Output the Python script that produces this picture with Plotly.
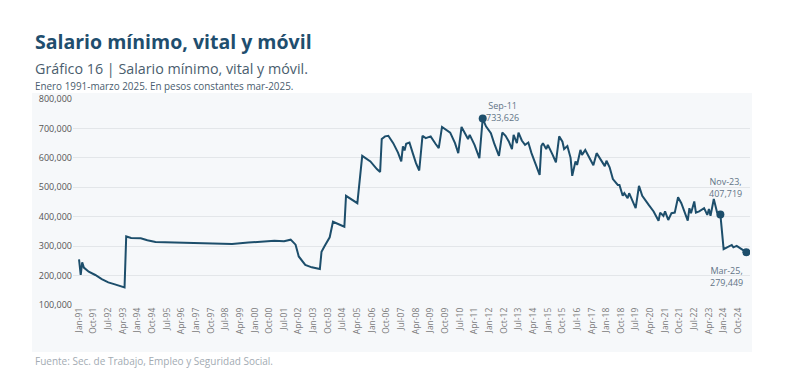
import plotly.graph_objects as go

# ---- Data (vertices, monthly dates) ----
dates = [
    "1991-01", "1991-02", "1991-03", "1991-04", "1991-07", "1991-11", "1992-03", "1992-07",
    "1992-11", "1993-03", "1993-05", "1993-06", "1993-09", "1994-03", "1994-07", "1994-12",
    "1995-12", "1996-12", "1998-01", "1998-11", "1999-09", "2001-01", "2001-07", "2001-11",
    "2002-02", "2002-04", "2002-08", "2002-12", "2003-05", "2003-06", "2003-08", "2003-11",
    "2004-01", "2004-06", "2004-08", "2004-09", "2004-12", "2005-04", "2005-07", "2005-12",
    "2006-04", "2006-06", "2006-07", "2006-09", "2006-11", "2007-02", "2007-05", "2007-07",
    "2007-08", "2007-09", "2007-10", "2007-12", "2008-02", "2008-04", "2008-06", "2008-08",
    "2008-10", "2009-01", "2009-04", "2009-06", "2009-08", "2009-09", "2009-11", "2010-01",
    "2010-04", "2010-06", "2010-08", "2010-10", "2010-12", "2011-01", "2011-04", "2011-07",
    "2011-09", "2011-11", "2012-02", "2012-04", "2012-07", "2012-09", "2012-11", "2013-01",
    "2013-03", "2013-04", "2013-06", "2013-07", "2013-09", "2013-11", "2014-01", "2014-03",
    "2014-06", "2014-08", "2014-09", "2014-10", "2014-12", "2015-01", "2015-04", "2015-06",
    "2015-08", "2015-10", "2015-11", "2016-01", "2016-03", "2016-04", "2016-06", "2016-07",
    "2016-09", "2016-10", "2016-12", "2017-03", "2017-05", "2017-07", "2017-10", "2017-12",
    "2018-01", "2018-03", "2018-05", "2018-07", "2018-08", "2018-09", "2018-11", "2018-12",
    "2019-02", "2019-03", "2019-05", "2019-07", "2019-09", "2019-11", "2020-03", "2020-06",
    "2020-09", "2020-10", "2020-12", "2021-01", "2021-03", "2021-05", "2021-07", "2021-09",
    "2021-11", "2022-01", "2022-03", "2022-04", "2022-05", "2022-07", "2022-08", "2022-10",
    "2023-01", "2023-03", "2023-04", "2023-05", "2023-07", "2023-09", "2023-11", "2024-01",
    "2024-04", "2024-06", "2024-07", "2024-09", "2024-12", "2025-03",
]
salario = [
    255000, 202000, 245000, 227000, 213000, 202000, 188000, 177000,
    170000, 165000, 160000, 333000, 328000, 327000, 320000, 314000,
    312000, 309000, 309000, 307000, 312000, 318000, 317000, 322000,
    305000, 265000, 236000, 228000, 222000, 281000, 301000, 330000,
    383000, 369000, 366000, 471000, 460000, 446000, 607000, 588000,
    562000, 552000, 664000, 673000, 675000, 650000, 618000, 588000,
    639000, 625000, 648000, 652000, 616000, 582000, 557000, 675000,
    667000, 673000, 648000, 633000, 705000, 701000, 693000, 686000,
    650000, 616000, 705000, 684000, 664000, 678000, 644000, 599000,
    733626, 707000, 684000, 650000, 607000, 686000, 675000, 656000,
    630000, 678000, 650000, 686000, 659000, 644000, 652000, 616000,
    571000, 542000, 640000, 650000, 630000, 644000, 610000, 585000,
    673000, 655000, 630000, 640000, 600000, 539000, 588000, 576000,
    627000, 610000, 627000, 595000, 575000, 616000, 592000, 572000,
    590000, 568000, 528000, 516000, 508000, 508000, 471000, 480000,
    463000, 480000, 452000, 429000, 505000, 471000, 440000, 418000,
    386000, 414000, 403000, 418000, 389000, 412000, 414000, 466000,
    446000, 412000, 387000, 429000, 412000, 452000, 414000, 418000,
    429000, 406000, 426000, 403000, 460000, 414000, 407719, 290000,
    298000, 304000, 296000, 301000, 290000, 279449,
]
y_ticks = [100000, 200000, 300000, 400000, 500000, 600000, 700000, 800000]

highlight_dates = ["2011-09", "2023-11", "2025-03"]
highlight_labels = ["Sep-11<br>733,626", "Nov-23,<br>407,719", "Mar-25,<br>279,449"]

title_text = "Salario mínimo, vital y móvil"
subtitle_text = "Gráfico 16 | Salario mínimo, vital y móvil."
note_text = "Enero 1991-marzo 2025. En pesos constantes mar-2025."
source_text = "Fuente: Sec. de Trabajo, Empleo y Seguridad Social."

# ---- Styling ----
OFF = 8  # default page body margin
W, H = 790 - OFF, 383 - OFF
PL, PR, PT, PB = 73 - OFF, 750 - OFF, 99 - OFF, 305 - OFF
LINE = "#1d4e6b"
TITLE = "#1f4e6e"
FONT = "Open Sans"


def px_x(x):
    return (x - OFF - PL) / (PR - PL)


def px_y(y):
    return (PB - (y - OFF)) / (PB - PT)


x_dates = [d + "-01" for d in dates]
hl_idx = [dates.index(d) for d in highlight_dates]

fig = go.Figure()
fig.add_trace(go.Scatter(
    x=x_dates, y=salario, mode="lines",
    line=dict(color=LINE, width=2), hoverinfo="skip", showlegend=False,
))
fig.add_trace(go.Scatter(
    x=[x_dates[i] for i in hl_idx], y=[salario[i] for i in hl_idx], mode="markers",
    marker=dict(color=LINE, size=8), hoverinfo="skip", showlegend=False,
))

shifts = [(20, 7, "middle"), (5, 27, "middle"), (-20, -24, "middle")]
annotations = []
for i, lab, (xs, ys, ya) in zip(hl_idx, highlight_labels, shifts):
    annotations.append(dict(
        x=x_dates[i], y=salario[i], xref="x", yref="y", text=lab, showarrow=False,
        xanchor="center", yanchor=ya, xshift=xs, yshift=ys, align="center",
        font=dict(family=FONT, size=9, color="#627486"),
    ))

annotations += [
    dict(x=px_x(33), y=px_y(41.5), xref="paper", yref="paper", text="<b>" + title_text + "</b>",
         showarrow=False, xanchor="left", yanchor="middle",
         font=dict(family=FONT, size=19.5, color=TITLE)),
    dict(x=px_x(33), y=px_y(68), xref="paper", yref="paper", text=subtitle_text,
         showarrow=False, xanchor="left", yanchor="middle",
         font=dict(family=FONT, size=14.3, color="#4a5d6e")),
    dict(x=px_x(33), y=px_y(86), xref="paper", yref="paper", text=note_text,
         showarrow=False, xanchor="left", yanchor="middle",
         font=dict(family=FONT, size=9.9, color="#4a5d6e")),
    dict(x=px_x(33), y=px_y(360.5), xref="paper", yref="paper", text=source_text,
         showarrow=False, xanchor="left", yanchor="middle",
         font=dict(family=FONT, size=10, color="#a3abb3")),
]

fig.update_layout(
    width=W, height=H, autosize=False,
    margin=dict(l=PL, r=W - PR, t=PT, b=H - PB, pad=0),
    paper_bgcolor="white", plot_bgcolor="rgba(0,0,0,0)",
    showlegend=False,
    annotations=annotations,
    shapes=[dict(type="rect", xref="paper", yref="paper",
                 x0=px_x(32), x1=px_x(752), y0=px_y(352), y1=px_y(93),
                 fillcolor="#f6f8fa", line=dict(width=0), layer="below")],
    font=dict(family=FONT, color="#666"),
)
fig.update_xaxes(
    type="date", range=["1990-09-10", "2025-05-08"],
    tick0="1991-01-01", dtick="M9", tickformat="%b-%y", tickangle=-90,
    showgrid=False, zeroline=False, showline=False, ticks="",
    tickfont=dict(family=FONT, size=8.5, color="#7a7a7a"),
)
fig.update_yaxes(
    range=[100000, 800000], tickvals=y_ticks, tickformat=",d",
    showgrid=True, gridcolor="#e3e6e9", gridwidth=1, zeroline=False, showline=False,
    ticks="", tickfont=dict(family=FONT, size=9, color="#555"),
)

fig.write_html("out.html")
